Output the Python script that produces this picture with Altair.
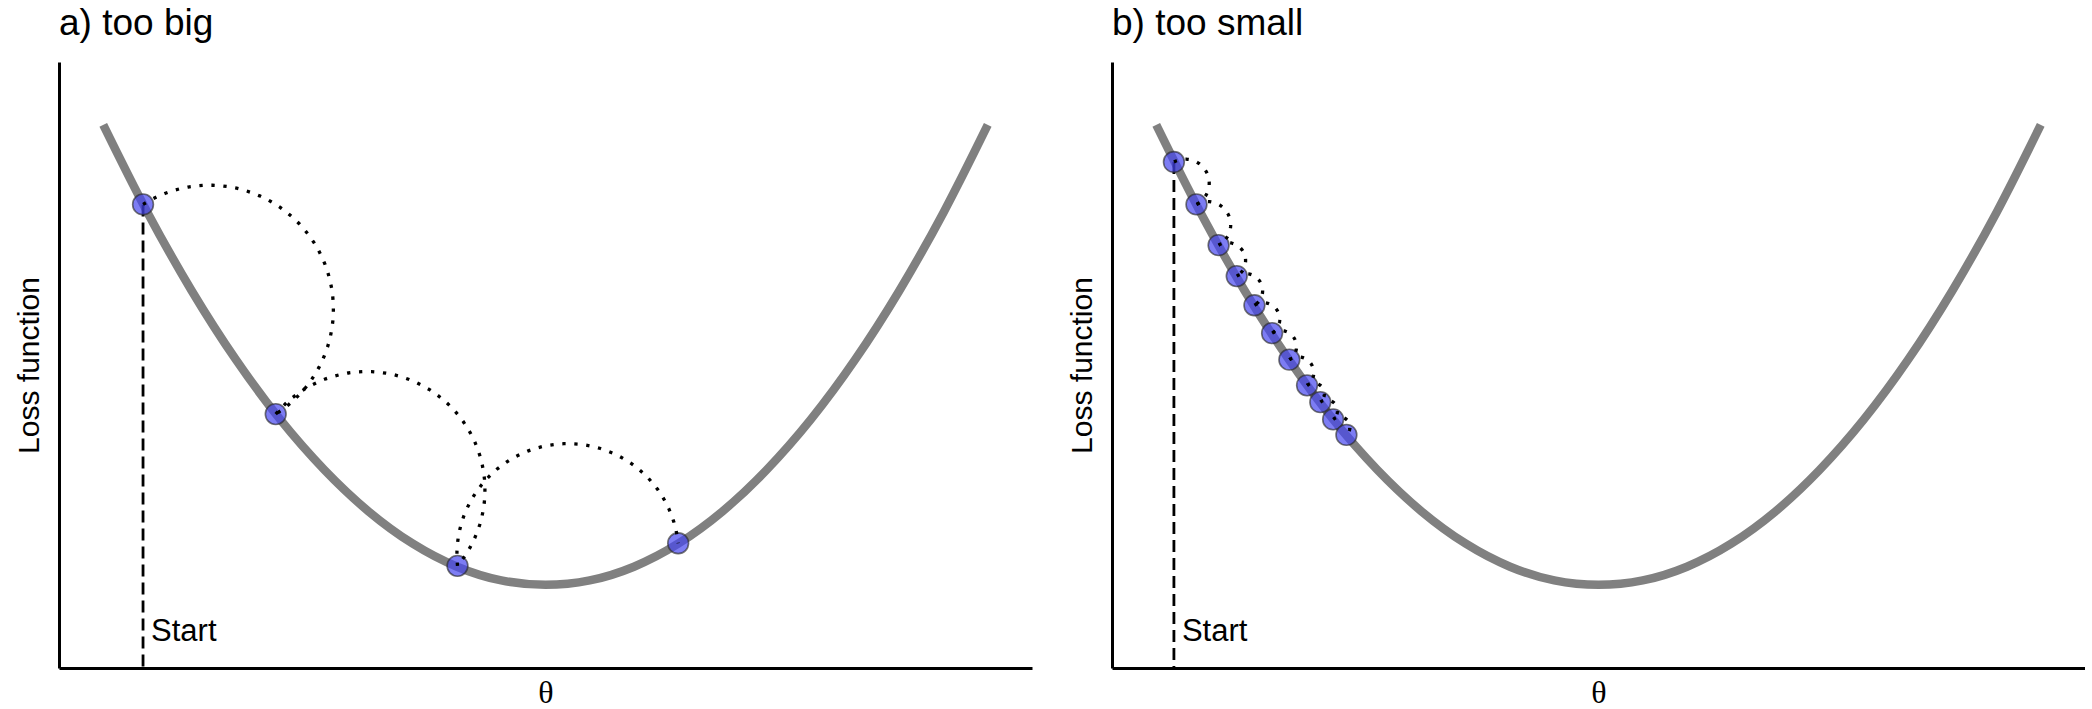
import math
import altair as alt
import pandas as pd

# ---- data ----
theta_curve = [-1.0, -0.9, -0.8, -0.7, -0.6, -0.5, -0.4, -0.3, -0.2, -0.1, 0.0,
               0.1, 0.2, 0.3, 0.4, 0.5, 0.6, 0.7, 0.8, 0.9, 1.0]
loss_curve = [1.04, 0.842, 0.665, 0.509, 0.374, 0.260, 0.166, 0.093, 0.041, 0.010, 0.000,
              0.010, 0.041, 0.093, 0.166, 0.260, 0.374, 0.509, 0.665, 0.842, 1.04]

big_theta = [-0.910, -0.610, -0.199, 0.300]
big_loss = [0.860, 0.386, 0.043, 0.094]

small_theta = [-0.960, -0.909, -0.859, -0.818, -0.778, -0.738, -0.699, -0.659, -0.629, -0.600, -0.570]
small_loss = [0.956, 0.860, 0.768, 0.698, 0.632, 0.569, 0.509, 0.451, 0.413, 0.374, 0.339]

start_label_loss = -0.127

titles = ["a) too big", "b) too small"]
x_title = "θ"
y_title = "Loss function"

X_DOMAIN = [-1.1, 1.1]
Y_DOMAIN = [-0.188, 1.182]
W, H = 973, 606


def arc_frame(ths, ls, n=48):
    """Semicircular connectors between consecutive steps (bulging upward)."""
    rows = []
    for i in range(len(ths) - 1):
        x0, y0, x1, y1 = ths[i], ls[i], ths[i + 1], ls[i + 1]
        cx, cy = (x0 + x1) / 2, (y0 + y1) / 2
        r = math.hypot(x1 - x0, y1 - y0) / 2
        a0 = math.atan2(y0 - cy, x0 - cx)
        for k in range(n + 1):
            a = a0 - math.pi * k / n
            rows.append({"seg": i, "k": k,
                         "theta": cx + r * math.cos(a),
                         "loss": cy + r * math.sin(a)})
    return pd.DataFrame(rows)


curve_df = pd.DataFrame({"theta": theta_curve, "loss": loss_curve})

x_enc = alt.X("theta:Q", scale=alt.Scale(domain=X_DOMAIN, nice=False, zero=False),
              axis=alt.Axis(title=x_title, titleFont="Liberation Serif", titleFontSize=32,
                            titlePadding=9, titleFontWeight="normal"))
y_enc = alt.Y("loss:Q", scale=alt.Scale(domain=Y_DOMAIN, nice=False, zero=False),
              axis=alt.Axis(title=y_title, titleFont="Liberation Sans", titleFontSize=30,
                            titlePadding=15, titleFontWeight="normal"))


def panel(title, ths, ls):
    pts = pd.DataFrame({"theta": ths, "loss": ls})
    start = pd.DataFrame({"theta": [ths[0]], "loss": [ls[0]]})
    start_lab = pd.DataFrame({"theta": [ths[0]], "loss": [start_label_loss], "lab": ["Start"]})
    arcs = arc_frame(ths, ls)

    curve = alt.Chart(curve_df).mark_line(
        color="#808080", strokeWidth=8.5, interpolate="monotone", strokeCap="butt"
    ).encode(x=x_enc, y=y_enc)

    rule = alt.Chart(start).mark_rule(
        color="black", strokeWidth=2.8, strokeDash=[12, 6]
    ).encode(x=x_enc, y=y_enc, y2=alt.datum(Y_DOMAIN[0]))

    label = alt.Chart(start_lab).mark_text(
        align="left", baseline="alphabetic", dx=8, fontSize=31,
        font="Liberation Sans", color="black"
    ).encode(x=x_enc, y=y_enc, text="lab:N")

    dots = alt.Chart(pts).mark_circle(
        size=430, color="#4646f0", fillOpacity=0.7, stroke="#2a2a2a",
        strokeWidth=1.6, strokeOpacity=0.65
    ).encode(x=x_enc, y=y_enc)

    paths = alt.Chart(arcs).mark_line(
        color="black", strokeWidth=3.3, strokeDash=[3.3, 8.7], strokeCap="butt"
    ).encode(x=x_enc, y=y_enc, detail="seg:N", order="k:Q")

    return alt.layer(curve, rule, label, dots, paths).properties(
        width=W, height=H,
        title=alt.Title(title, anchor="start", frame="group", fontSize=37,
                        font="Liberation Sans", fontWeight="normal",
                        baseline="alphabetic", offset=-10, color="black"),
    )


chart = alt.hconcat(
    panel(titles[0], big_theta, big_loss),
    panel(titles[1], small_theta, small_loss),
    spacing=35,
).properties(
    padding={"left": 14, "top": 5, "right": 0, "bottom": 0},
    background="white",
).configure_view(stroke=None).configure_axis(
    domainColor="black", domainWidth=3, ticks=False, labels=False, grid=False,
    titleColor="black"
)

chart.save("out.html", embed_options={"renderer": "svg", "actions": False})
